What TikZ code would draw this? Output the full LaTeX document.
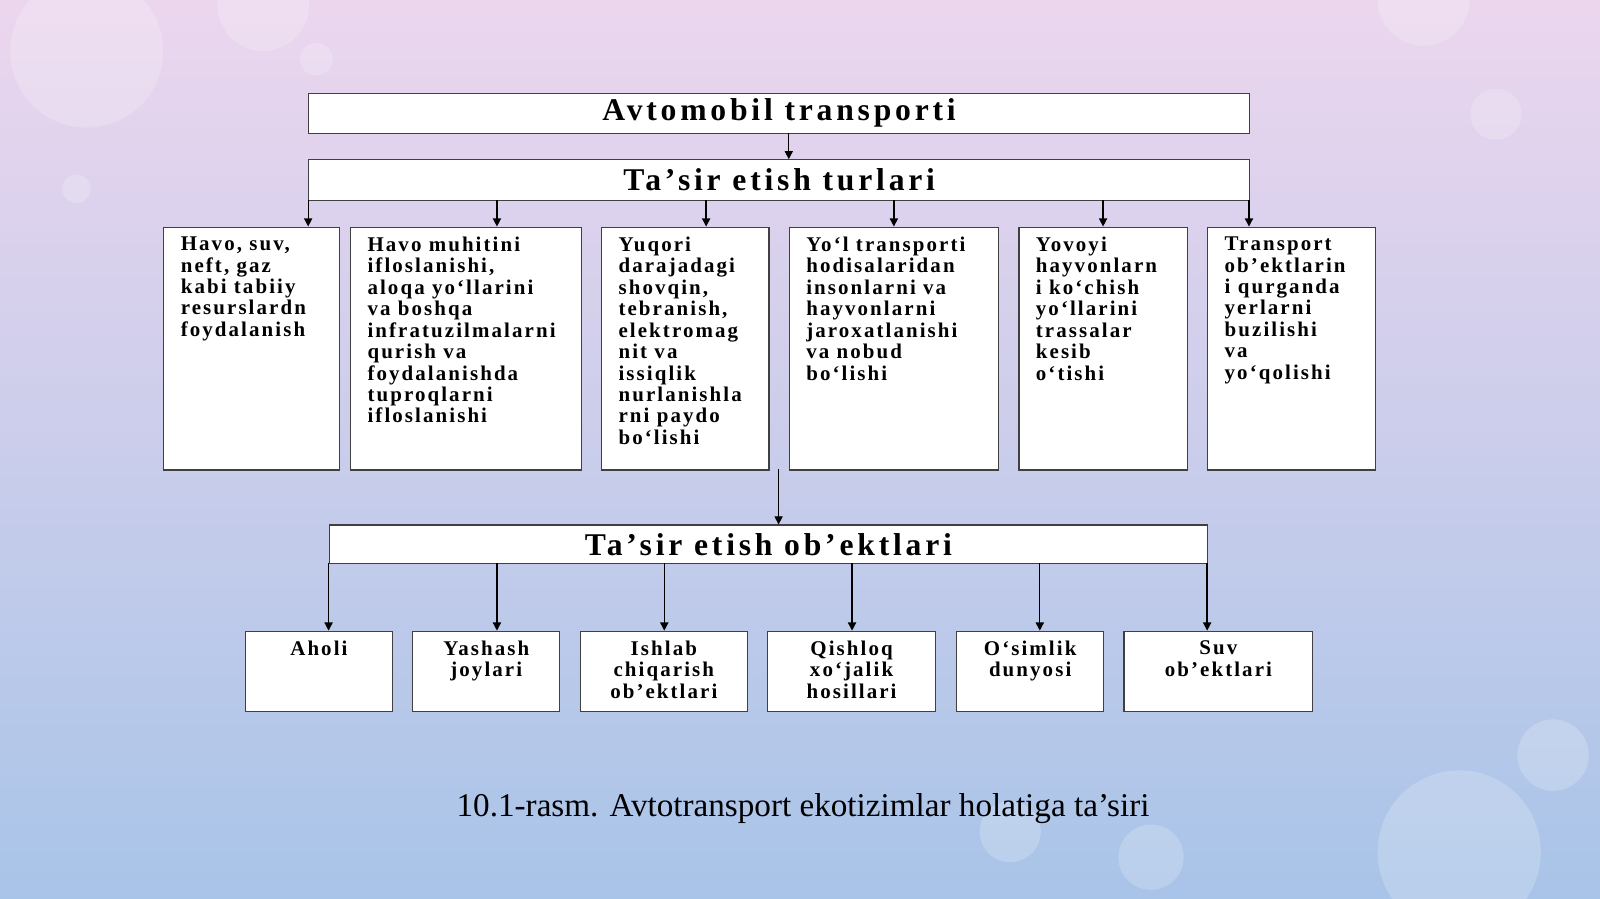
\documentclass[tikz,border=0pt]{standalone}
\usepackage{fontspec}
\setmainfont{Liberation Serif}
\newfontfamily\boxfont[LetterSpace=10]{Liberation Serif}
\newfontfamily\headfont[LetterSpace=12]{Liberation Serif}
\usetikzlibrary{arrows.meta}
\begin{document}
\begin{tikzpicture}[x=1pt,y=-1pt,
  box/.style={draw=black!75,line width=1.1pt,fill=white,inner sep=0},
  txt/.style={anchor=north west,align=left,inner sep=0,font=\boxfont\bfseries\fontsize{20.5}{21}\selectfont},
  ctxt/.style={anchor=north,align=center,inner sep=0,font=\boxfont\bfseries\fontsize{20.5}{21}\selectfont},
  head/.style={font=\headfont\bfseries\fontsize{31}{32}\selectfont},
  arr/.style={line width=1.3pt,-{Triangle[length=8pt,width=8pt]}}]
\useasboundingbox (0,0) rectangle (1568,881);
\shade[top color={rgb,255:red,236;green,214;blue,238},bottom color={rgb,255:red,168;green,196;blue,232}] (0,0) rectangle (1568,881);
\fill[white,opacity=0.2] (85,50) circle (75);
\fill[white,opacity=0.2] (258,5) circle (45);
\fill[white,opacity=0.2] (1395,0) circle (45);
\fill[white,opacity=0.2] (1466,112) circle (25);
\fill[white,opacity=0.2] (1430,835) circle (80);
\fill[white,opacity=0.2] (1522,740) circle (35);
\fill[white,opacity=0.2] (1128,840) circle (32);
\fill[white,opacity=0.2] (990,815) circle (30);
\fill[white,opacity=0.2] (310,58) circle (16);
\fill[white,opacity=0.2] (75,185) circle (14);
% top boxes
\node[box,minimum width=922,minimum height=39,anchor=north west] (t1) at (302,91) {};
\node[head] (t1t) at (t1.center) {Avtomobil transporti};
\node[box,minimum width=922,minimum height=40,anchor=north west] (t2) at (302,156) {};
\node[head] (t2t) at (t2.center) {Ta’sir etish turlari};
\coordinate (a1) at (773,130);
\coordinate (a2) at (773,156);
\draw[arr] (a1) -- (a2);
% six boxes
\foreach \n/\xa/\xb in {1/160/332,2/343/569,3/589/753,4/773/978,5/998/1163,6/1183/1347}{
  \node[box,minimum width=\xb-\xa,minimum height=238,anchor=north west] (m\n) at (\xa,222) {};
}
\foreach \n/\x in {1/302,2/487,3/692,4/876,5/1081,6/1224}{
  \coordinate (s\n) at (\x,196);
  \coordinate (e\n) at (\x,222);
  \draw[arr] (s\n) -- (e\n);
}
\node[txt] (m1t) at ([xshift=17,yshift=-10]m1.north west) {Havo, suv,\\neft, gaz\\kabi tabiiy\\resurslardn\\foydalanish};
\node[txt] (m2t) at ([xshift=17,yshift=-10]m2.north west) {Havo muhitini\\ifloslanishi,\\aloqa yo‘llarini\\va boshqa\\infratuzilmalarni\\qurish va\\foydalanishda\\tuproqlarni\\ifloslanishi};
\node[txt] (m3t) at ([xshift=17,yshift=-10]m3.north west) {Yuqori\\darajadagi\\shovqin,\\tebranish,\\elektromag\\nit va\\issiqlik\\nurlanishla\\rni paydo\\bo‘lishi};
\node[txt] (m4t) at ([xshift=17,yshift=-10]m4.north west) {Yo‘l transporti\\hodisalaridan\\insonlarni va\\hayvonlarni\\jaroxatlanishi\\va nobud\\bo‘lishi};
\node[txt] (m5t) at ([xshift=17,yshift=-10]m5.north west) {Yovoyi\\hayvonlarn\\i ko‘chish\\yo‘llarini\\trassalar\\kesib\\o‘tishi};
\node[txt] (m6t) at ([xshift=17,yshift=-10]m6.north west) {Transport\\ob’ektlarin\\i qurganda\\yerlarni\\buzilishi\\va\\yo‘qolishi};
% third
\coordinate (c1) at (763,460);
\node[box,minimum width=861,minimum height=38,anchor=north west] (t3) at (322,514) {};
\node[head] (t3t) at (t3.center) {Ta’sir etish ob’ektlari};
\draw[arr] (c1) -- (t3.north -| c1);
\foreach \n/\xa/\xb in {1/240/384,2/404/548,3/568/732,4/752/916,5/937/1081,6/1101/1286}{
  \node[box,minimum width=\xb-\xa,minimum height=79,anchor=north west] (b\n) at (\xa,618) {};
}
\foreach \n/\x in {1/322,2/487,3/651,4/835,5/1019,6/1183}{
  \coordinate (u\n) at (\x,552);
  \coordinate (v\n) at (\x,618);
  \draw[arr] (u\n) -- (v\n);
}
\node[ctxt] (b1t) at ([yshift=-10]b1.north) {Aholi};
\node[ctxt] (b2t) at ([yshift=-10]b2.north) {Yashash\\joylari};
\node[ctxt] (b3t) at ([yshift=-10]b3.north) {Ishlab\\chiqarish\\ob’ektlari};
\node[ctxt] (b4t) at ([yshift=-10]b4.north) {Qishloq\\xo‘jalik\\hosillari};
\node[ctxt] (b5t) at ([yshift=-10]b5.north) {O‘simlik\\dunyosi};
\node[ctxt] (b6t) at ([yshift=-10]b6.north) {Suv\\ob’ektlari};
\node[font=\fontsize{32.5}{36}\selectfont] (cap) at (787,792) {10.1-rasm. Avtotransport ekotizimlar holatiga ta’siri};
\end{tikzpicture}
\end{document}
